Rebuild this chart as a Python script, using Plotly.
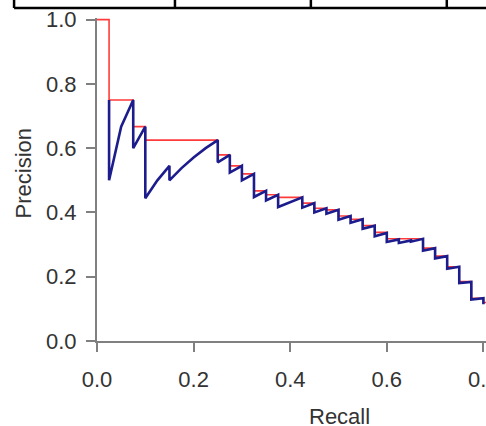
import plotly.graph_objects as go

# Interpolated precision (red step envelope): level starts at recall value
interp_recall = [0.0, 0.025, 0.075, 0.1, 0.25, 0.275, 0.3, 0.325, 0.35, 0.375,
                 0.425, 0.45, 0.475, 0.5, 0.525, 0.55, 0.575, 0.6, 0.675, 0.7,
                 0.725, 0.75, 0.775, 0.8, 0.82]
interp_precision = [1.0, 0.75, 0.667, 0.625, 0.579, 0.545, 0.52, 0.467, 0.455, 0.447,
                    0.429, 0.413, 0.408, 0.389, 0.379, 0.359, 0.338, 0.318, 0.289, 0.264,
                    0.231, 0.185, 0.133, 0.12, 0.12]

# Actual precision-recall curve (navy sawtooth)
pr_recall = [0.025, 0.025, 0.05, 0.075, 0.075, 0.1, 0.1, 0.125, 0.15, 0.15,
             0.175, 0.2, 0.225, 0.25, 0.25, 0.275, 0.275, 0.3, 0.3, 0.325,
             0.325, 0.35, 0.35, 0.375, 0.375, 0.4, 0.425, 0.425, 0.45, 0.45,
             0.475, 0.475, 0.5, 0.5, 0.525, 0.525, 0.55, 0.55, 0.575, 0.575,
             0.6, 0.6, 0.625, 0.625, 0.65, 0.65, 0.675, 0.675, 0.7, 0.7,
             0.725, 0.725, 0.75, 0.75, 0.775, 0.775, 0.8, 0.8]
pr_precision = [0.75, 0.5, 0.667, 0.75, 0.6, 0.667, 0.444, 0.5, 0.545, 0.5,
                0.538, 0.571, 0.6, 0.625, 0.556, 0.579, 0.524, 0.545, 0.5, 0.52,
                0.448, 0.467, 0.4375, 0.455, 0.417, 0.432, 0.447, 0.415, 0.429, 0.4,
                0.413, 0.396, 0.408, 0.377, 0.389, 0.368, 0.379, 0.349, 0.359, 0.326,
                0.336, 0.308, 0.316, 0.305, 0.313, 0.309, 0.318, 0.281, 0.289, 0.257,
                0.264, 0.225, 0.231, 0.18, 0.184, 0.129, 0.133, 0.114]

x_ticks = [0.0, 0.2, 0.4, 0.6, 0.8, 1.0]
y_ticks = [0.0, 0.2, 0.4, 0.6, 0.8, 1.0]

fig = go.Figure()
fig.add_trace(go.Scatter(x=interp_recall, y=interp_precision, mode="lines",
                         line=dict(color="#ff3b3b", width=1.6, shape="hv"),
                         showlegend=False, hoverinfo="skip"))
fig.add_trace(go.Scatter(x=pr_recall, y=pr_precision, mode="lines",
                         line=dict(color="#1c1c8c", width=2.6),
                         showlegend=False, hoverinfo="skip"))

axis_common = dict(showgrid=False, zeroline=False, showline=True,
                   linecolor="#808080", linewidth=2, ticks="outside",
                   tickcolor="#808080", tickwidth=2, ticklen=9,
                   tickfont=dict(family="Liberation Sans, Arial", size=22, color="#333333"),
                   tickformat=".1f", automargin=False)

fig.update_xaxes(range=[0, 1.0], tickvals=x_ticks, ticklabelstandoff=9, **axis_common)
fig.update_yaxes(range=[0, 1.005], tickvals=y_ticks, ticklabelstandoff=5, **axis_common)

title_font = dict(family="Liberation Sans, Arial", size=22, color="#333333")
fig.add_annotation(text="Recall", x=0.503, xref="x", y=-0.2345, yref="paper",
                   xanchor="center", yanchor="middle", showarrow=False, font=title_font)
fig.add_annotation(text="Precision", x=-0.152, xref="paper", y=0.52, yref="y",
                   xanchor="center", yanchor="middle", textangle=-90,
                   showarrow=False, font=title_font)

# table border fragment above the chart
line_style = dict(color="black", width=2.5)
fig.add_shape(type="line", xref="paper", yref="paper", x0=-0.1717, x1=1.05,
              y0=1.031, y1=1.031, line=line_style)
for xv in [-0.1717, 0.1614, 0.4428, 0.7242]:
    fig.add_shape(type="line", xref="paper", yref="paper", x0=xv, x1=xv,
                  y0=1.031, y1=1.08, line=line_style)

# The original figure is wider than the 486 px view; its right part is cut off
fig.update_layout(width=600, height=426,
                  margin=dict(l=97, r=19.7, t=18, b=85),
                  plot_bgcolor="white", paper_bgcolor="white")

fig.write_html("out.html", config={"displayModeBar": False},
               post_script="document.body.style.margin='0px';document.body.style.overflow='hidden';")
